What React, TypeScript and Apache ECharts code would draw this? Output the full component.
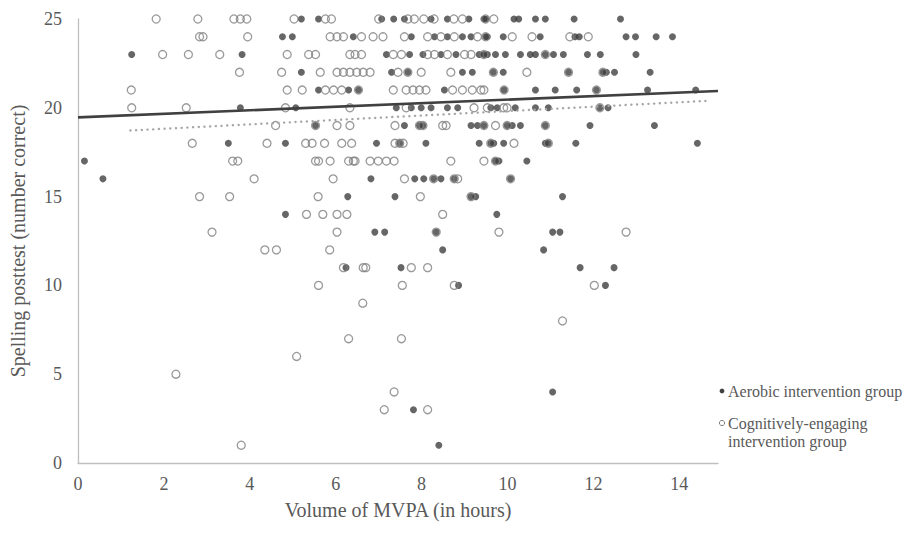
import React, { useEffect, useRef } from "react";
import * as echarts from "echarts";

// Spelling posttest score (row) -> MVPA hours of each pupil
const aerobicRows: [number, number[]][] = [
  [25, [5.2, 5.6, 7.07, 7.35, 7.6, 8.22, 8.6, 9.1, 9.45, 9.49, 10.15, 10.26, 10.65, 10.88, 11.55, 12.63]],
  [24, [4.76, 4.99, 6.41, 7.76, 8.3, 8.6, 8.95, 9.15, 9.53, 9.49, 9.9, 10.76, 11.57, 11.67, 12.76, 12.98, 13.46, 13.84]],
  [23, [1.25, 3.82, 7.18, 7.72, 8.03, 8.45, 8.8, 9.34, 9.53, 9.45, 9.72, 9.95, 10.3, 10.53, 10.65, 10.88, 11.07, 11.3, 11.86, 12.16, 12.99]],
  [22, [5.2, 7.3, 7.68, 8.95, 9.18, 9.67, 9.9, 11.42, 12.22, 12.3, 12.49, 13.32]],
  [21, [5.6, 6.3, 6.53, 8.53, 9.92, 10.65, 11.11, 11.61, 12.07, 13.26, 14.38]],
  [20, [3.78, 5.07, 7.41, 7.76, 7.99, 8.22, 8.6, 8.84, 9.61, 9.76, 10.18, 10.65, 10.95, 12.15, 12.34]],
  [19, [5.53, 7.6, 7.95, 8.03, 9.15, 9.3, 9.45, 9.99, 10.11, 10.3, 10.88, 11.92, 13.42]],
  [18, [3.5, 4.83, 6.95, 7.49, 8.1, 9.34, 9.61, 9.68, 9.91, 10.88, 10.95, 11.59, 14.42]],
  [17, [0.15, 9.72, 9.8, 10.45]],
  [16, [0.58, 6.82, 7.84, 8.05, 8.28, 8.45, 8.76, 10.07]],
  [15, [6.28, 7.38, 9.15, 9.26, 11.28]],
  [14, [4.83, 9.75]],
  [13, [6.91, 7.14, 8.34, 11.05, 11.22]],
  [12, [8.49, 10.84]],
  [11, [6.24, 7.52, 11.69, 12.48]],
  [10, [8.86, 12.28]],
  [4, [11.05]],
  [3, [7.81]],
  [1, [8.4]],
];

const cognitiveRows: [number, number[]][] = [
  [25, [1.82, 2.79, 3.63, 3.78, 3.93, 5.03, 5.76, 5.9, 7.0, 7.68, 7.83, 8.05, 8.29, 8.75, 8.95, 9.49, 9.68]],
  [24, [2.83, 2.91, 3.95, 5.87, 6.03, 6.18, 6.6, 6.87, 7.1, 7.6, 8.14, 8.45, 8.76, 9.3, 9.49, 10.11, 10.57, 11.45, 11.88]],
  [23, [1.97, 2.57, 3.3, 4.87, 5.37, 5.53, 6.33, 6.45, 6.6, 7.34, 7.53, 8.14, 8.3, 8.6, 9.0, 9.15, 9.45, 10.88]],
  [22, [3.76, 4.74, 5.64, 6.03, 6.18, 6.33, 6.49, 6.64, 6.8, 7.45, 7.68, 7.99, 8.68, 9.67, 10.45, 11.42, 12.22]],
  [21, [1.24, 4.87, 5.22, 5.76, 5.95, 6.14, 6.53, 7.34, 7.64, 7.8, 7.95, 8.1, 8.72, 8.95, 9.18, 9.38, 9.45, 9.92, 12.07]],
  [20, [1.25, 2.52, 4.83, 6.33, 7.64, 9.22, 9.53, 9.91, 9.99, 12.15]],
  [19, [4.6, 5.53, 6.03, 6.33, 7.38, 7.95, 8.03, 8.49, 8.57, 9.45, 9.72, 9.99, 10.88]],
  [18, [2.66, 4.4, 5.3, 5.45, 5.74, 6.14, 6.37, 7.38, 7.49, 7.57, 9.61, 10.15, 10.95]],
  [17, [3.6, 3.72, 5.53, 5.6, 5.87, 6.3, 6.41, 6.45, 6.8, 6.99, 7.18, 7.36, 8.68, 9.45, 9.72]],
  [16, [4.1, 5.94, 7.6, 8.28, 8.76, 8.84, 10.07]],
  [15, [2.83, 3.53, 5.59, 7.97, 9.15]],
  [14, [5.32, 5.7, 6.03, 6.26, 8.49]],
  [13, [3.12, 6.03, 8.34, 9.8, 12.76]],
  [12, [4.35, 4.62, 5.86]],
  [11, [6.18, 6.64, 6.7, 7.76, 8.14]],
  [10, [5.6, 7.55, 8.76, 12.02]],
  [9, [6.63]],
  [8, [11.28]],
  [7, [6.3, 7.53]],
  [6, [5.09]],
  [5, [2.28]],
  [4, [7.36]],
  [3, [7.13, 8.14]],
  [1, [3.8]],
];

// Linear trendlines [x, y]
const aerobicTrend: [number, number][] = [[0, 19.46], [14.9, 20.95]];
const cognitiveTrend: [number, number][] = [[1.22, 18.72], [14.65, 20.39]];

const xTicks = { min: 0, max: 14.9, interval: 2 };
const yTicks = { min: 0, max: 25, interval: 5 };

const seriesNames = ["Aerobic intervention group", "Cognitively-engaging intervention group"];

const toPoints = (rows: [number, number[]][]) =>
  rows.flatMap(([score, xs]) => xs.map((x) => [x, score]));

const FONT = "'Liberation Serif', 'Times New Roman', serif";
const TXT = "#595959";

export default function App() {
  const ref = useRef<HTMLDivElement>(null);
  useEffect(() => {
    if (!ref.current) return;
    const chart = echarts.init(ref.current, undefined, { renderer: "svg" });
    chart.setOption({
      animation: false,
      backgroundColor: "#ffffff",
      textStyle: { fontFamily: FONT },
      grid: { left: 74, top: 19, right: 190, bottom: 70, containLabel: false },
      xAxis: {
        type: "value",
        min: xTicks.min,
        max: xTicks.max,
        interval: xTicks.interval,
        name: "Volume of MVPA (in hours)",
        nameLocation: "middle",
        nameGap: 37,
        nameTextStyle: { fontFamily: FONT, fontSize: 20, color: TXT },
        axisLine: { lineStyle: { color: "#bfbfbf", width: 1.3 } },
        axisTick: { show: false },
        splitLine: { show: false },
        axisLabel: { fontFamily: FONT, fontSize: 18, color: TXT, margin: 12, showMaxLabel: false },
      },
      yAxis: {
        type: "value",
        min: yTicks.min,
        max: yTicks.max,
        interval: yTicks.interval,
        name: "Spelling posttest (number correct)",
        nameLocation: "middle",
        nameRotate: 90,
        nameGap: 50,
        nameTextStyle: { fontFamily: FONT, fontSize: 20, color: TXT },
        axisLine: { show: true, lineStyle: { color: "#bfbfbf", width: 1.3 } },
        axisTick: { show: false },
        splitLine: { show: false },
        axisLabel: { fontFamily: FONT, fontSize: 18, color: TXT, margin: 16 },
      },
      series: [
        {
          name: seriesNames[0],
          type: "scatter",
          data: toPoints(aerobicRows),
          symbol: "circle",
          symbolSize: 7,
          itemStyle: { color: "#404040" },
          emphasis: { disabled: true },
        },
        {
          name: seriesNames[1],
          type: "scatter",
          data: toPoints(cognitiveRows),
          symbol: "circle",
          symbolSize: 8,
          itemStyle: { color: "rgba(255,255,255,0)", borderColor: "#7f7f7f", borderWidth: 1.3 },
          emphasis: { disabled: true },
        },
        {
          type: "line",
          data: aerobicTrend,
          symbol: "none",
          silent: true,
          lineStyle: { color: "#404040", width: 2.6 },
        },
        {
          type: "line",
          data: cognitiveTrend,
          symbol: "none",
          silent: true,
          lineStyle: { color: "#a6a6a6", width: 2.4, type: [0.1, 5.6], cap: "round" },
        },
      ],
      graphic: [
        { type: "circle", shape: { cx: 722, cy: 391, r: 2.4 }, style: { fill: "#404040" } },
        {
          type: "text",
          x: 728,
          y: 391,
          style: { text: seriesNames[0], font: `16px ${FONT}`, fill: TXT, verticalAlign: "middle" },
        },
        {
          type: "circle",
          shape: { cx: 722, cy: 423, r: 2.6 },
          style: { fill: "#ffffff", stroke: "#7f7f7f", lineWidth: 1 },
        },
        {
          type: "text",
          x: 728,
          y: 423,
          style: { text: "Cognitively-engaging", font: `16px ${FONT}`, fill: TXT, verticalAlign: "middle" },
        },
        {
          type: "text",
          x: 728,
          y: 441,
          style: { text: "intervention group", font: `16px ${FONT}`, fill: TXT, verticalAlign: "middle" },
        },
      ],
    });
    return () => chart.dispose();
  }, []);
  return (
    <div
      ref={ref}
      style={{ position: "fixed", left: 0, top: 0, width: 908, height: 533, background: "#fff" }}
    />
  );
}
